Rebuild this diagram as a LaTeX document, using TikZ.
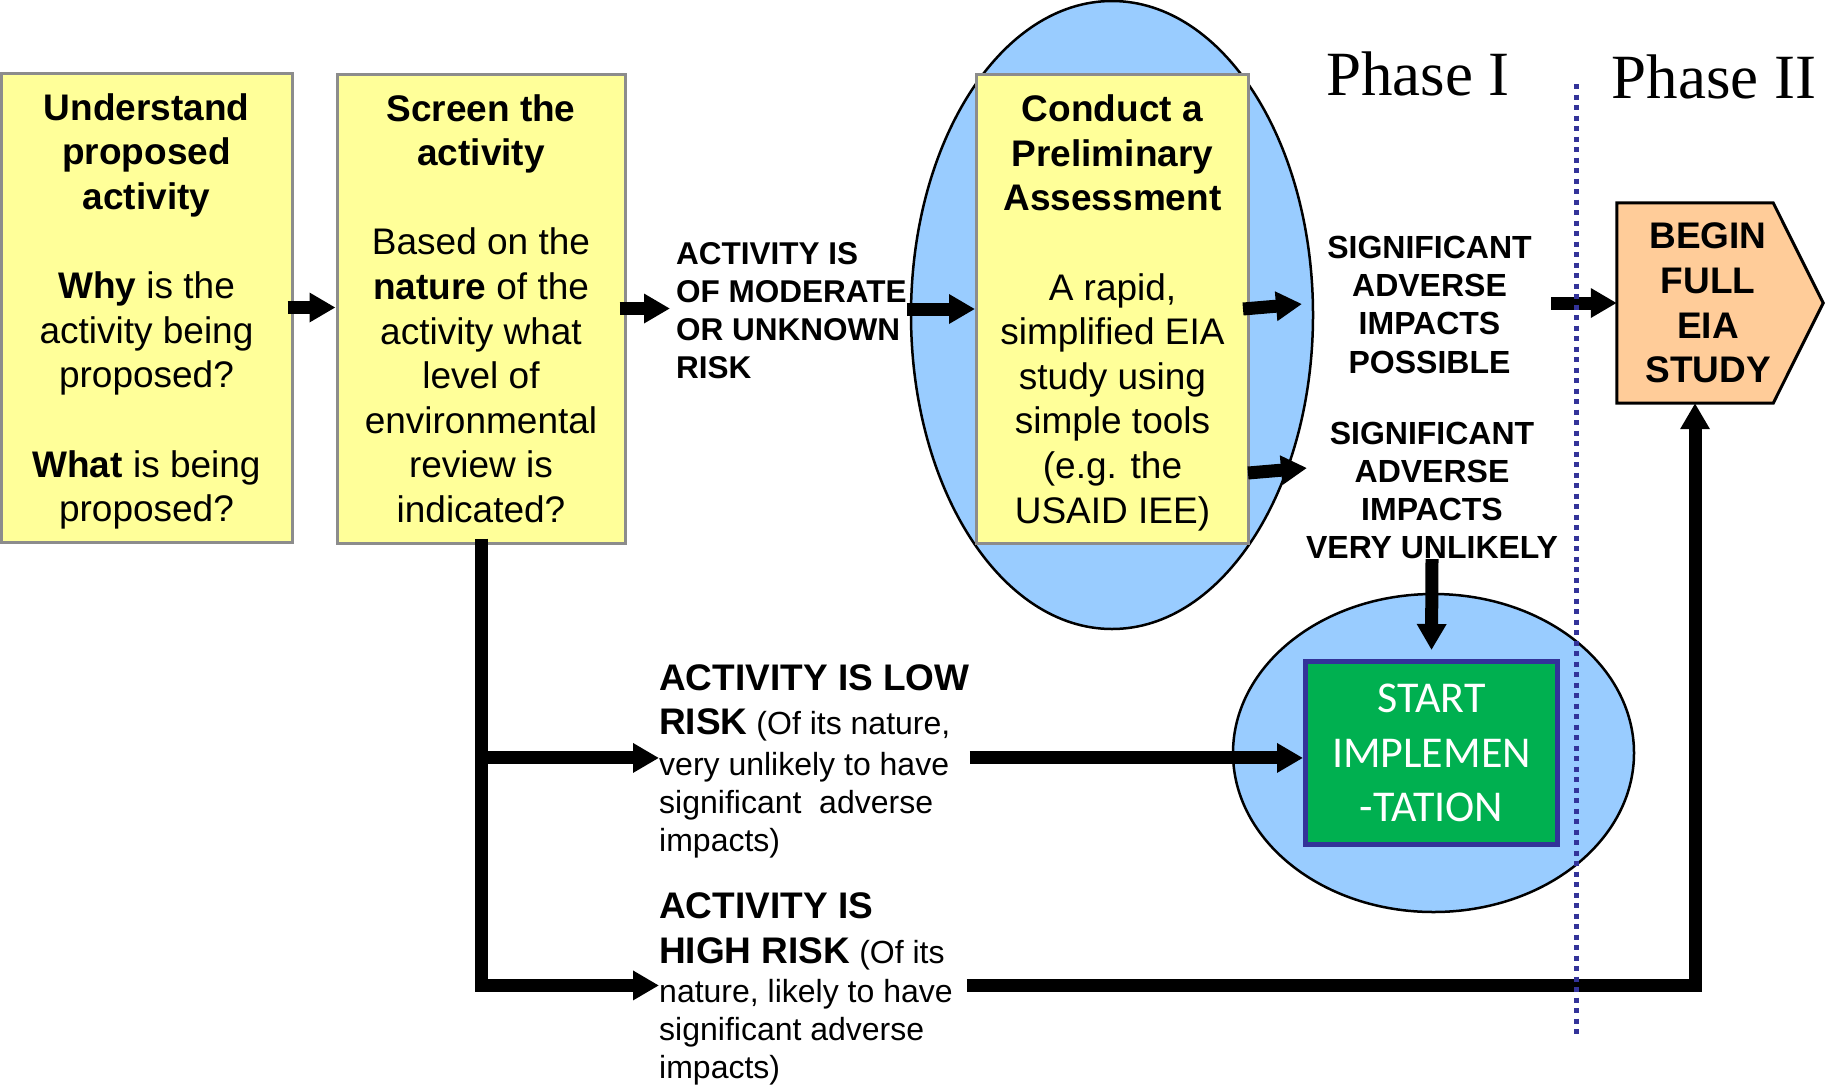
\documentclass[tikz,border=0pt]{standalone}
\usepackage{fontspec}
\setmainfont{Liberation Sans}
\newfontfamily\phfont{Liberation Serif}
\newfontfamily\calfont{Carlito}
\usetikzlibrary{arrows.meta,shapes.geometric,calc}
\definecolor{boxyellow}{RGB}{255,255,153}
\definecolor{boxgray}{RGB}{140,140,140}
\definecolor{skyblue}{RGB}{153,204,255}
\definecolor{eiaorange}{RGB}{255,204,153}
\definecolor{impgreen}{RGB}{0,176,80}
\definecolor{navyline}{RGB}{51,51,153}
\newcommand\bigbold[1]{{\fontsize{37}{45}\selectfont\bfseries #1}}
\begin{document}
\begin{tikzpicture}[x=1pt,y=-1pt,
  ybox/.style={draw=boxgray, fill=boxyellow, line width=3pt, inner sep=0pt, align=center,
    font=\fontsize{37}{44.6}\selectfont, minimum height=469pt},
  blob/.style={ellipse, draw=black, line width=2.5pt, fill=skyblue, inner sep=0pt},
  arr/.style={line width=13pt, line cap=butt, -{Triangle[length=26pt,width=28pt]}},
  capstext/.style={inner sep=0pt, font=\fontsize{32}{38.2}\selectfont\bfseries, align=center, anchor=north},
  risktext/.style={inner sep=0pt, align=left, anchor=north west, font=\fontsize{32}{38}\selectfont},
  phase/.style={anchor=base, inner sep=0pt, font=\phfont\fontsize{63}{63}\selectfont},
]
\useasboundingbox (0,0) rectangle (1825,1088);

% background shapes
\node[blob, minimum width=402pt, minimum height=628pt] (ell1) at (1112,315) {};
\node[blob, minimum width=401pt, minimum height=318pt] (ell2) at (1433.5,753) {};

% yellow boxes
\node[ybox, minimum width=291pt, text depth=-2pt] (box1) at (146.5,307.5)
  {\textbf{Understand}\\\textbf{proposed}\\\textbf{activity}\\[44.6pt]
   \textbf{Why} is the\\activity being\\proposed?\\[44.6pt]
   \textbf{What} is being\\proposed?};
\node[ybox, minimum width=288pt] (box2) at (481,308.5)
  {\textbf{Screen the}\\\textbf{activity}\\[44.6pt]
   Based on the\\\textbf{nature} of the\\activity what\\level of\\environmental\\review is\\indicated?};
\node[ybox, minimum width=272pt, text depth=0pt] (box3) at (1112.5,309)
  {\textbf{Conduct a}\\\textbf{Preliminary}\\\textbf{Assessment}\\[44.6pt]
   A rapid,\\simplified EIA\\study using\\simple tools\\(e.g. the\\USAID IEE)};

% green box
\node[draw=navyline, line width=5pt, fill=impgreen, minimum width=252pt, minimum height=183pt,
  inner sep=0pt, align=center, text=white, font=\calfont\fontsize{44}{54.5}\selectfont]
  (green) at (1431.5,753) {START\\IMPLEMEN\\-TATION};

% orange pentagon
\node[minimum width=156pt, minimum height=200pt, inner sep=0pt] (eiabox) at (1695,303) {};
\draw[fill=eiaorange, line width=3pt, line join=miter]
  (eiabox.north west) -- (eiabox.north east) -- ($(eiabox.east)+(50,0)$)
  -- (eiabox.south east) -- (eiabox.south west) -- cycle;
\node[inner sep=0pt, align=center, font=\fontsize{37}{44.6}\selectfont\bfseries] (eia) at (1708,303)
  {BEGIN\\FULL\\EIA\\STUDY};

% labels
\node[risktext, font=\fontsize{31.5}{38.2}\selectfont\bfseries] (mod) at (676,242)
  {ACTIVITY IS\\OF MODERATE\\OR UNKNOWN\\RISK};
\node[capstext] (sig1) at (1429.5,236) {SIGNIFICANT\\ADVERSE\\IMPACTS\\POSSIBLE};
\node[capstext] (sig2) at (1432,421.5) {SIGNIFICANT\\ADVERSE\\IMPACTS\\VERY UNLIKELY};
\node[risktext] (low) at (659,664)
  {\bigbold{ACTIVITY IS LOW}\\[6pt]\bigbold{RISK} (Of its nature,\\[3pt]very unlikely to have\\significant\ \ adverse\\impacts)};
\node[risktext] (high) at (659,892)
  {\bigbold{ACTIVITY IS}\\[7pt]\bigbold{HIGH RISK} (Of its\\[1pt]nature, likely to have\\significant adverse\\impacts)};
\node[phase] (ph1) at (1418,95) {Phase I};
\node[phase] (ph2) at (1714,98) {Phase II};

% free ends
\coordinate (a4) at (1302,304);
\coordinate (a5) at (1307,468);
\coordinate (a6) at (1551,303);
\coordinate (lowy) at ($(low.west)+(0,-3)$);
\coordinate (highy) at ($(high.west)+(0,-3)$);

% connectors
\draw[arr] ($(box1.east)+(-6,0)$) -- (box1.east -| box2.west);
\draw[arr] ($(box2.east)+(-7,0)$) -- ($(box2.east -| mod.west)+(-6,0)$);
\draw[arr] (mod.east |- box3.west) -- (box3.west);
\draw[arr] ($(box3.east)+(-7,0)$) -- (a4);
\draw[arr] ($(box3.east)+(-2,164)$) -- (a5);
\draw[arr] (a6) -- (eiabox.west);
\draw[arr] (sig2.south) -- ($(green.north)+(0,-9)$);
\draw[arr, line join=miter] ($(box2.south)+(0,-6)$) |- (highy);
\draw[arr] (box2.south |- lowy) -- (lowy);
\draw[arr] (low.east |- lowy) -- (lowy -| green.west);
\draw[arr, line join=miter] ($(high.east |- highy)+(14,0)$) -| (eiabox.south);

% phase divider
\coordinate (dtop) at (1576,84);
\coordinate (dbot) at (1576,1037);
\draw[navyline, line width=5pt, dash pattern=on 5pt off 5.5pt] (dtop) -- (dbot);
\end{tikzpicture}
\end{document}
